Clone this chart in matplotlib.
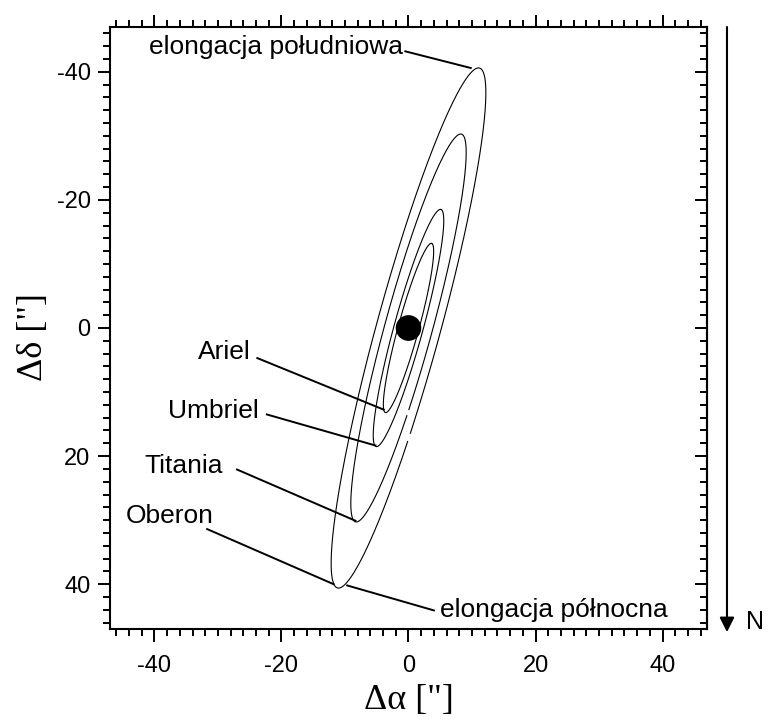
import numpy as np
import matplotlib
matplotlib.use('Agg')
import matplotlib.pyplot as plt
from matplotlib.patches import Circle
from matplotlib.ticker import MultipleLocator

# orbit data (arcsec)
moons = ['Ariel', 'Umbriel', 'Titania', 'Oberon']
semi_major = [13.7, 19.2, 31.4, 42.1]
axis_ratio = 0.119          # b/a of projected orbits
tilt_deg = 15.4             # major axis angle from the y axis
gap_deg = [None, None, 114.0, 113.0]   # small breaks in the curves
planet_radius = 1.9

# leader lines: label position and line start/end
label_xy = [(-24.9, 3.7), (-23.6, 13.0), (-29.3, 21.6), (-30.7, 29.3)]
line_from = [(-23.8, 4.7), (-22.3, 13.5), (-27.0, 22.1), (-31.7, 31.4)]
line_to = [(-3.9, 12.75), (-5.2, 18.35), (-8.35, 30.1), (-11.8, 40.0)]

elong_text = ['elongacja południowa', 'elongacja północna']
elong_xy = [(-0.9, -43.8), (5.0, 44.0)]
elong_from = [(-0.5, -43.2), (-9.65, 40.2)]
elong_to = [(9.8, -40.6), (4.0, 44.1)]

plt.rcParams['font.family'] = ['Liberation Sans', 'DejaVu Sans']
plt.rcParams['axes.unicode_minus'] = False

fig = plt.figure(figsize=(7.68, 7.2), dpi=100)
ax = fig.add_axes([0.1432, 0.1264, 0.7774, 0.8361])

th = np.radians(tilt_deg)
u = np.array([np.sin(th), -np.cos(th)])
v = np.array([np.cos(th), np.sin(th)])

for a, g in zip(semi_major, gap_deg):
    b = a * axis_ratio
    if g is None:
        t = np.radians(np.linspace(0, 360, 1441))
    else:
        t = np.radians(np.linspace(g + 1.0, g + 359.0, 1441))
    x = a * np.cos(t) * u[0] + b * np.sin(t) * v[0]
    y = a * np.cos(t) * u[1] + b * np.sin(t) * v[1]
    ax.plot(x, y, color='black', lw=0.8)

ax.add_patch(Circle((0, 0), planet_radius, color='black', zorder=5))

for name, txy, p0, p1 in zip(moons, label_xy, line_from, line_to):
    ax.text(txy[0], txy[1], name, ha='right', va='center', fontsize=19)
    ax.plot([p0[0], p1[0]], [p0[1], p1[1]], color='black', lw=1.4)

ax.text(elong_xy[0][0], elong_xy[0][1], elong_text[0], ha='right', va='center', fontsize=19)
ax.text(elong_xy[1][0], elong_xy[1][1], elong_text[1], ha='left', va='center', fontsize=19)
for p0, p1 in zip(elong_from, elong_to):
    ax.plot([p0[0], p1[0]], [p0[1], p1[1]], color='black', lw=1.4)

ax.set_xlim(-47, 47)
ax.set_ylim(47, -47)
ax.xaxis.set_major_locator(MultipleLocator(20))
ax.xaxis.set_minor_locator(MultipleLocator(2))
ax.yaxis.set_major_locator(MultipleLocator(20))
ax.yaxis.set_minor_locator(MultipleLocator(2))
ax.tick_params(which='both', direction='out', top=True, right=False, width=1.4,
               labelsize=17)
ax.tick_params(which='major', length=9, pad=5)
ax.tick_params(which='minor', length=5)
ax.tick_params(axis='x', which='major', pad=10)
for s in ax.spines.values():
    s.set_linewidth(1.5)

sec = ax.secondary_yaxis('right')
sec.yaxis.set_major_locator(MultipleLocator(20))
sec.yaxis.set_minor_locator(MultipleLocator(2))
sec.tick_params(which='both', direction='in', width=1.4, labelright=False)
sec.tick_params(which='major', length=9)
sec.tick_params(which='minor', length=5)
sec.spines['right'].set_linewidth(1.5)

ax.set_xlabel('Δα ["]', family='Liberation Serif', fontsize=26)
ax.set_ylabel('Δδ ["]', family='Liberation Serif', fontsize=26)
ax.xaxis.set_label_coords(0.5, -0.092)
ax.yaxis.set_label_coords(-0.1, 0.485)

# north arrow outside the frame
ax.annotate('', xy=(0.9466, 0.122), xytext=(0.9466, 0.9625),
            xycoords='figure fraction', textcoords='figure fraction',
            arrowprops=dict(arrowstyle='-|>', lw=1.5, color='black',
                            mutation_scale=22, shrinkA=0, shrinkB=0))
fig.text(0.983, 0.136, 'N', fontsize=18, ha='center', va='center')

plt.savefig('out.png', dpi=100)
